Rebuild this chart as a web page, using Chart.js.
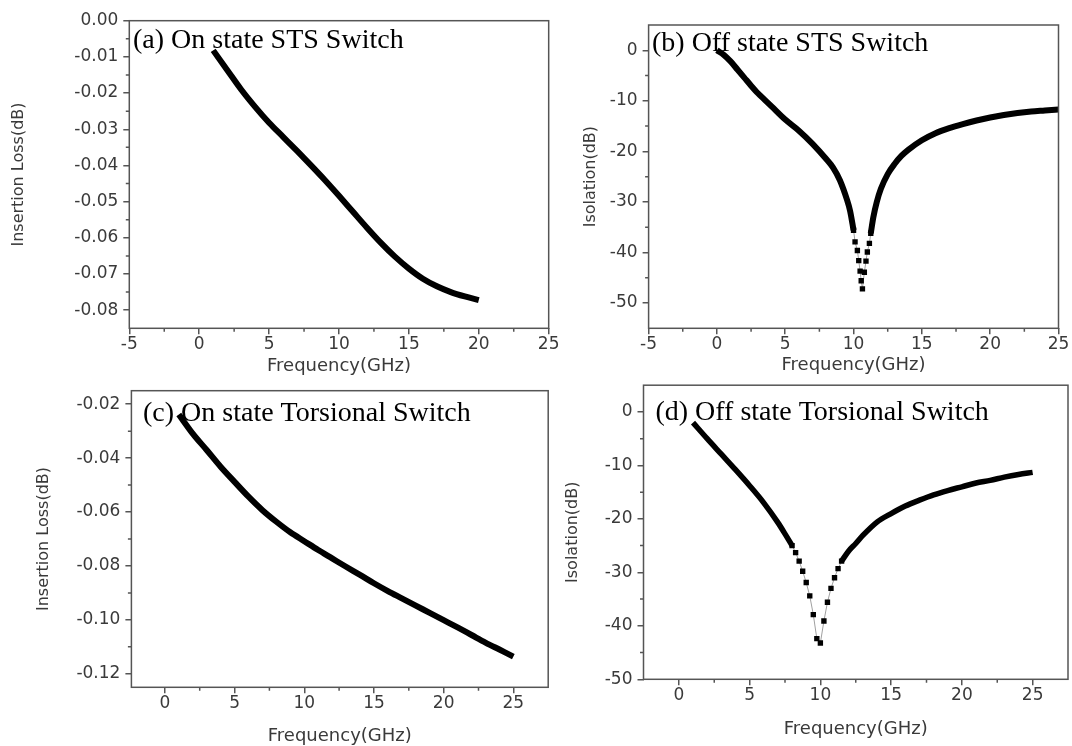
<!DOCTYPE html>
<html>
<head>
<meta charset="utf-8">
<script src="https://cdn.jsdelivr.net/npm/chart.js@4.4.1/dist/chart.umd.min.js"></script>
<style>
  html, body { margin: 0; padding: 0; background: #fff; }
  #wrap { position: relative; width: 1072px; height: 746px; overflow: hidden; }
  #wrap canvas { position: absolute; }
</style>
</head>
<body>
<div id="wrap">
  <canvas id="chartA" width="560" height="380" style="left:0;top:0"></canvas>
  <canvas id="chartB" width="512" height="380" style="left:560px;top:0"></canvas>
  <canvas id="chartC" width="560" height="376" style="left:0;top:370px"></canvas>
  <canvas id="chartD" width="512" height="376" style="left:560px;top:370px"></canvas>
</div>
<script>
// ── data ─────────────────────────────────────────────
// (a) on state, STS switch
const aFreq = [1, 2, 3, 4, 5, 6, 7, 8, 9, 10, 11, 12, 13, 14, 15, 16, 17, 18, 19, 20];
const aLoss = [-0.0082, -0.0136, -0.0190, -0.0238, -0.0282, -0.0321, -0.0360, -0.0400, -0.0441, -0.0484,
               -0.0528, -0.0572, -0.0614, -0.0652, -0.0685, -0.0713, -0.0734, -0.0750, -0.0762, -0.0772];

// (b) off state, STS switch
const bLeftFreq  = [0, 0.5, 1, 1.5, 2, 2.5, 3, 3.5, 4, 5, 6, 7, 8, 8.5, 9, 9.5, 9.75, 10];
const bLeftIso   = [0, -0.9, -2.2, -3.8, -5.4, -7.0, -8.5, -9.8, -11.1, -13.7, -15.9, -18.5, -21.5, -23.2, -25.7, -29.4, -31.8, -35.6];
const bDipFreq   = [10.0, 10.11, 10.28, 10.38, 10.48, 10.56, 10.65, 10.79, 10.91, 11.01, 11.16, 11.26];
const bDipIso    = [-35.6, -37.9, -39.6, -41.6, -43.7, -45.6, -47.2, -43.9, -41.7, -39.9, -38.2, -36.2];
const bRightFreq = [11.26, 11.45, 11.7, 12, 12.5, 13, 13.5, 14, 15, 16, 17, 18, 19, 20, 21, 22, 23, 24, 25];
const bRightIso  = [-36.2, -33.0, -30.0, -27.4, -24.5, -22.5, -20.9, -19.7, -17.8, -16.4, -15.4, -14.6, -13.9, -13.3, -12.8, -12.4, -12.1, -11.9, -11.7];

// (c) on state, torsional switch
const cFreq = [1, 2, 3, 4, 5, 6, 7, 8, 9, 10, 11, 12, 13, 14, 15, 16, 17, 18, 19, 20, 21, 22, 23, 24, 25];
const cLoss = [-0.0238, -0.0309, -0.0370, -0.0432, -0.0488, -0.0543, -0.0593, -0.0636, -0.0675, -0.0708,
               -0.0741, -0.0772, -0.0803, -0.0833, -0.0864, -0.0893, -0.0920, -0.0947, -0.0974, -0.1001,
               -0.1028, -0.1056, -0.1084, -0.1110, -0.1136];

// (d) off state, torsional switch
const dLeftFreq  = [1, 2, 3, 4, 5, 6, 7, 7.5, 8];
const dLeftIso   = [-2.0, -5.0, -7.9, -10.8, -13.8, -17.0, -20.7, -22.8, -25.0];
const dDipFreq   = [8.0, 8.25, 8.5, 8.75, 9.0, 9.25, 9.5, 9.75, 10.0, 10.25, 10.5, 10.75, 11.0, 11.25, 11.5];
const dDipIso    = [-25.0, -26.3, -27.9, -29.8, -31.9, -34.4, -37.9, -42.4, -43.2, -39.1, -35.6, -33.0, -31.0, -29.3, -27.9];
const dRightFreq = [11.5, 12, 12.5, 13, 14, 15, 16, 17, 18, 19, 20, 21, 22, 23, 24, 25];
const dRightIso  = [-27.9, -26.0, -24.6, -23.1, -20.6, -19.0, -17.6, -16.5, -15.5, -14.7, -14.0, -13.3, -12.8, -12.2, -11.7, -11.3];

// tick values
const freqTicksAB = [-5, 0, 5, 10, 15, 20, 25];
const freqTicksCD = [0, 5, 10, 15, 20, 25];
const aLossTicks  = [-0.08, -0.07, -0.06, -0.05, -0.04, -0.03, -0.02, -0.01, 0];
const cLossTicks  = [-0.12, -0.10, -0.08, -0.06, -0.04, -0.02];
const isoTicks    = [-50, -40, -30, -20, -10, 0];

// ── helpers ──────────────────────────────────────────
Chart.defaults.font.family = "'DejaVu Sans', sans-serif";
Chart.defaults.color = '#3a3a3a';
const INK = '#555';

const pts = (xs, ys) => xs.map((x, i) => ({ x, y: ys[i] }));

const thick = (data, w) => ({
  data, borderColor: '#000', borderWidth: w, pointRadius: 0,
  cubicInterpolationMode: 'monotone', fill: false
});
const dotted = data => ({
  data, borderColor: '#a0a0a0', borderWidth: 1, pointStyle: 'rect', pointRadius: 3.8,
  pointBackgroundColor: '#000', pointBorderWidth: 0, fill: false
});

function halves(scale) {
  const v = scale.ticks.map(t => t.value);
  const step = v[1] - v[0];
  const out = [v[0] - step / 2];
  v.forEach(t => out.push(t + step / 2));
  return out.filter(m => m > scale.min + 1e-9 && m < scale.max - 1e-9);
}

// frame, minor ticks and the panel caption
const decor = {
  id: 'decor',
  afterDraw(chart) {
    const { ctx, chartArea: a, scales: { x, y } } = chart;
    const o = chart.options.plugins.decor;
    ctx.save();
    ctx.strokeStyle = INK;
    ctx.lineWidth = 1.5;
    ctx.strokeRect(a.left, a.top, a.right - a.left, a.bottom - a.top);
    ctx.beginPath();
    halves(x).forEach(v => { const p = x.getPixelForValue(v); ctx.moveTo(p, a.bottom); ctx.lineTo(p, a.bottom + 3.5); });
    halves(y).forEach(v => { const p = y.getPixelForValue(v); ctx.moveTo(a.left, p); ctx.lineTo(a.left - 3.5, p); });
    ctx.stroke();
    ctx.font = '28px "Liberation Serif", "Times New Roman", serif';
    ctx.fillStyle = '#000';
    ctx.textBaseline = 'alphabetic';
    ctx.textAlign = 'left';
    ctx.fillText(o.caption, o.cx, o.cy);
    ctx.restore();
  }
};

function axis(horizontal, ticks, min, max, title, fmt, size, titlePad) {
  return {
    type: 'linear', min, max,
    afterBuildTicks: s => { s.ticks = ticks.map(value => ({ value })); },
    afterFit: s => { if (horizontal) s.height = size; else s.width = size; },
    ticks: {
      font: { size: 17 }, color: '#3a3a3a', padding: horizontal ? 0.5 : 5,
      autoSkip: false, maxRotation: 0, callback: fmt
    },
    grid: { drawOnChartArea: false, drawTicks: true, tickLength: 6, color: INK, lineWidth: 1.5 },
    border: { display: false },
    title: {
      display: true, text: title, color: '#3a3a3a',
      font: { size: horizontal ? 18 : 16, lineHeight: 1 },
      padding: horizontal ? { top: 0, bottom: titlePad } : { top: titlePad, bottom: 0 }
    }
  };
}

const fmt2 = v => v.toFixed(2);
const fmt0 = v => String(v);

function panel(id, p) {
  new Chart(document.getElementById(id), {
    type: 'line',
    data: { datasets: p.datasets },
    options: {
      responsive: false, animation: false, devicePixelRatio: 1,
      layout: { padding: { left: 0, top: p.padTop, right: p.padRight, bottom: 0 } },
      plugins: {
        legend: { display: false }, tooltip: { enabled: false },
        decor: { caption: p.caption, cx: p.cx, cy: p.cy }
      },
      scales: {
        x: axis(true, p.xTicks, p.xMin, p.xMax, 'Frequency(GHz)', fmt0, p.xH, p.xTitlePad),
        y: axis(false, p.yTicks, p.yMin, p.yMax, p.yTitle, p.yFmt, p.yW, p.yTitlePad)
      }
    },
    plugins: [decor]
  });
}

// ── the four panels ──────────────────────────────────
panel('chartA', {
  datasets: [thick(pts(aFreq, aLoss), 6)],
  xTicks: freqTicksAB, xMin: -5, xMax: 25,
  yTicks: aLossTicks, yMin: -0.085, yMax: 0, yFmt: fmt2, yTitle: 'Insertion Loss(dB)',
  yW: 129.3, xH: 51.7, padTop: 20.7, padRight: 11, xTitlePad: 5, yTitlePad: 11.3,
  caption: '(a) On state STS Switch', cx: 133, cy: 48.3
});

panel('chartB', {
  datasets: [thick(pts(bLeftFreq, bLeftIso), 6), dotted(pts(bDipFreq, bDipIso)), thick(pts(bRightFreq, bRightIso), 6)],
  xTicks: freqTicksAB, xMin: -5, xMax: 25,
  yTicks: isoTicks, yMin: -55, yMax: 5, yFmt: fmt0, yTitle: 'Isolation(dB)',
  yW: 88.6, xH: 51.7, padTop: 25, padRight: 13.5, xTitlePad: 5.5, yTitlePad: 23,
  caption: '(b) Off state STS Switch', cx: 92, cy: 50.7
});

panel('chartC', {
  datasets: [thick(pts(cFreq, cLoss), 6)],
  xTicks: freqTicksCD, xMin: -2.4, xMax: 27.5,
  yTicks: cLossTicks, yMin: -0.125, yMax: -0.015, yFmt: fmt2, yTitle: 'Insertion Loss(dB)',
  yW: 131.4, xH: 58.7, padTop: 20.7, padRight: 11.8, xTitlePad: 0.3, yTitlePad: 35.8,
  caption: '(c) On state Torsional Switch', cx: 143, cy: 50.7
});

panel('chartD', {
  datasets: [thick(pts(dLeftFreq, dLeftIso), 5.5), dotted(pts(dDipFreq, dDipIso)), thick(pts(dRightFreq, dRightIso), 5.5)],
  xTicks: freqTicksCD, xMin: -2.5, xMax: 27.5,
  yTicks: isoTicks, yMin: -50, yMax: 5, yFmt: fmt0, yTitle: 'Isolation(dB)',
  yW: 83.5, xH: 66.7, padTop: 14, padRight: 1.5, xTitlePad: 8, yTitlePad: 5,
  caption: '(d) Off state Torsional Switch', cx: 95.4, cy: 50
});
</script>
</body>
</html>
